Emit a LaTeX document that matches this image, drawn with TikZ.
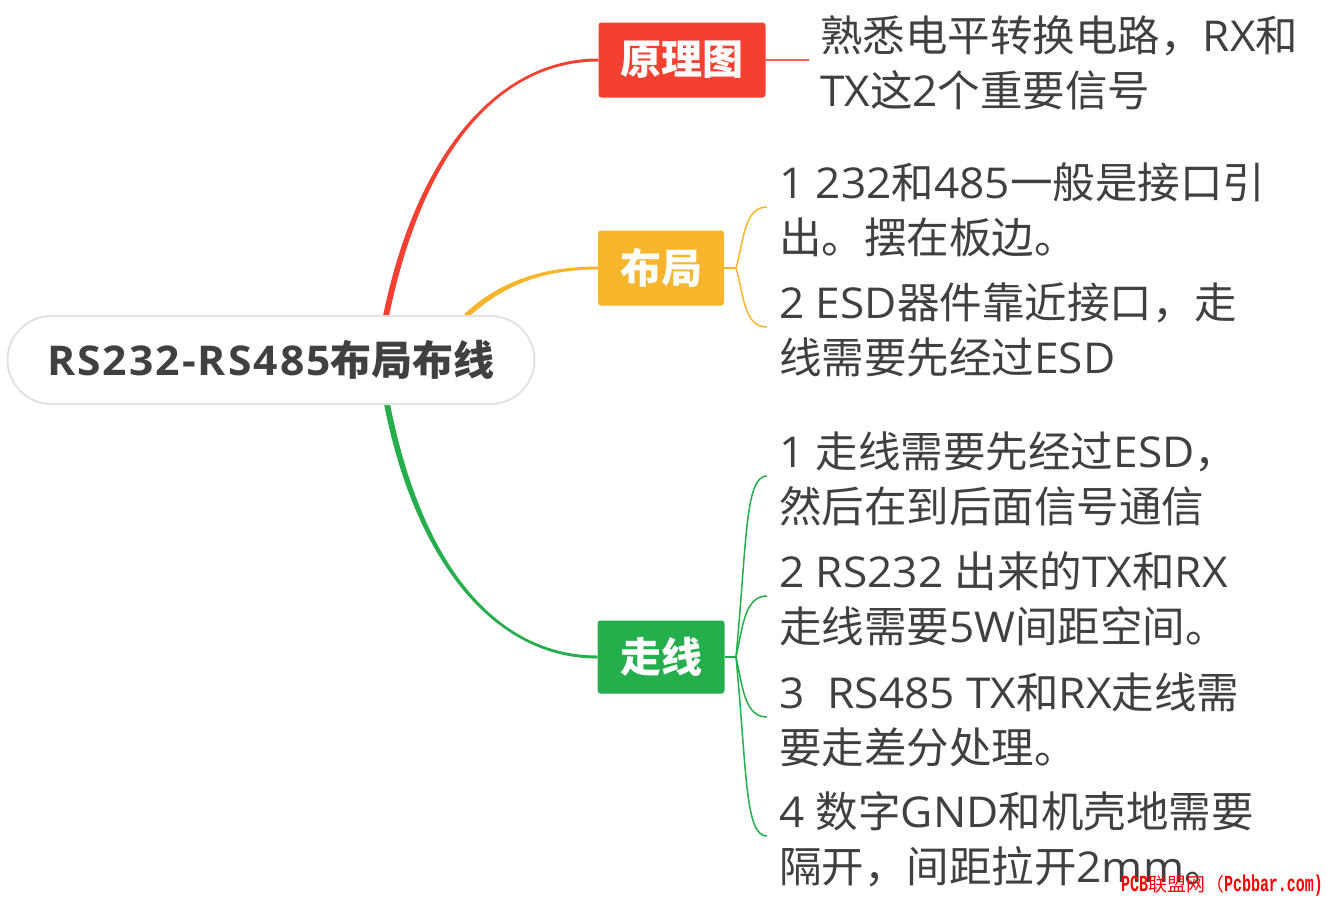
\documentclass[tikz,border=0pt]{standalone}
\usepackage{fontspec}
\setmainfont{Open Sans}[FakeStretch=1.04]
\newfontfamily\cjk{Noto Sans CJK SC}
\newfontfamily\wmmono[FakeStretch=0.65]{Liberation Mono}
\newfontfamily\rootlatin{Open Sans}[FakeStretch=1.04,LetterSpace=5]
\newcommand\C[1]{{\cjk #1}}
\usetikzlibrary{calc}
\definecolor{cred}{RGB}{244,64,49}
\definecolor{corange}{RGB}{247,181,44}
\definecolor{cgreen}{RGB}{37,174,76}
\definecolor{txt}{RGB}{64,64,64}
\definecolor{pillline}{RGB}{226,226,226}
\tikzset{
  pill/.style={draw=pillline, line width=2, fill=white, rounded corners=44,
    minimum width=527, minimum height=88, inner sep=0, text=txt,
    font=\bfseries\fontsize{41}{41}\selectfont},
  topic/.style={rounded corners=3, text=white, inner sep=0,
    font=\bfseries\fontsize{41}{41}\selectfont},
  item/.style={anchor=west, align=left, inner sep=0, text=txt,
    font=\fontsize{42.5}{55}\selectfont},
  thinline/.style={line width=1.5}
}
\begin{document}
\begin{tikzpicture}[x=1pt,y=-1pt]
\useasboundingbox (0,0) rectangle (1327,898);
\fill[white] (0,0) rectangle (1327,898);

% topic boxes
\node[topic, fill=cred, minimum width=167, minimum height=75] (b1) at (682,60) {\C{原理图}};
\node[topic, fill=corange, minimum width=126, minimum height=75] (b2) at (661,268) {\C{布局}};
\node[topic, fill=cgreen, minimum width=127, minimum height=73] (b3) at (661,657) {\C{走线}};

% branch start points on the root
\coordinate (s1) at (386,316);
\coordinate (s2) at (467,315);
\coordinate (s3) at (387,404);

% tapered main branches
\fill[cred] ($(s1)+(-3,0)$) .. controls (417,150) and (500,58.5) .. ($(b1.west)+(0,-1.5)$)
  -- ($(b1.west)+(0,1.5)$) .. controls (500,61.5) and (423,150) .. ($(s1)+(3,0)$) -- cycle;
\fill[cred] (s1) circle (3);
\fill[corange] ($(s2)+(-1.8,-1.8)$) .. controls (498,283) and (540,266.5) .. ($(b2.west)+(0,-1.5)$)
  -- ($(b2.west)+(0,1.5)$) .. controls (540,269.5) and (502,287) .. ($(s2)+(1.8,1.8)$) -- cycle;
\fill[corange] (s2) circle (2.6);
\fill[cgreen] ($(s3)+(-3,0)$) .. controls (417,571) and (500,658.5) .. ($(b3.west)+(0,1.5)$)
  -- ($(b3.west)+(0,-1.5)$) .. controls (500,655.5) and (423,571) .. ($(s3)+(3,0)$) -- cycle;
\fill[cgreen] (s3) circle (3);

% root
\node[pill] (root) at (271,360) {{\rootlatin RS232-RS485}\C{布局布线}};

% 原理图 detail
\coordinate (r1) at (809,60);
\draw[cred!85, thinline] (b1.east) -- (r1);
\node[item] (t1) at (820,63) {\C{熟悉电平转换电路，}RX\C{和}\\TX\C{这}2\C{个重要信号}};

% 布局 details
\coordinate (j2) at (736,268);
\coordinate (e21) at (767,207);
\coordinate (e22) at (767,327);
\draw[corange, thinline] (b2.east) -- (j2);
\draw[corange, thinline] (j2) .. controls (744,240) and (744,207) .. (e21);
\draw[corange, thinline] (j2) .. controls (744,296) and (744,327) .. (e22);
\node[item] (t21) at (779,210) {1 232\C{和}485\C{一般是接口引}\\\C{出。摆在板边。}};
\node[item] (t22) at (779,330) {2 ESD\C{器件靠近接口，走}\\\C{线需要先经过}ESD};

% 走线 details
\coordinate (j3) at (736,657);
\coordinate (e31) at (767,476);
\coordinate (e32) at (767,596);
\coordinate (e33) at (767,717);
\coordinate (e34) at (767,836);
\draw[cgreen, thinline] (b3.east) -- (j3);
\draw[cgreen, thinline] (j3) .. controls (747,540) and (745,476) .. (e31);
\draw[cgreen, thinline] (j3) .. controls (743,625) and (745,596) .. (e32);
\draw[cgreen, thinline] (j3) .. controls (743,689) and (745,717) .. (e33);
\draw[cgreen, thinline] (j3) .. controls (747,774) and (745,836) .. (e34);
\node[item] (t31) at (779,479) {1 \C{走线需要先经过}ESD\C{，}\\\C{然后在到后面信号通信}};
\node[item] (t32) at (779,599) {2 RS232 \C{出来的}TX\C{和}RX\\\C{走线需要}5W\C{间距空间。}};
\node[item] (t33) at (779,720) {3\ \ RS485 TX\C{和}RX\C{走线需}\\\C{要走差分处理。}};
\node[item] (t34) at (779,839) {4 \C{数字}GND\C{和机壳地需要}\\\C{隔开，间距拉开}2mm\C{。}};

% watermark
\node[anchor=base east, inner sep=0, text=red] (wm) at (1323,891)
  {{\wmmono\bfseries\fontsize{23}{23}\selectfont PCB}{\cjk\fontsize{19}{19}\selectfont 联盟网（}{\wmmono\bfseries\fontsize{23}{23}\selectfont Pcbbar.com)}};
\end{tikzpicture}
\end{document}
